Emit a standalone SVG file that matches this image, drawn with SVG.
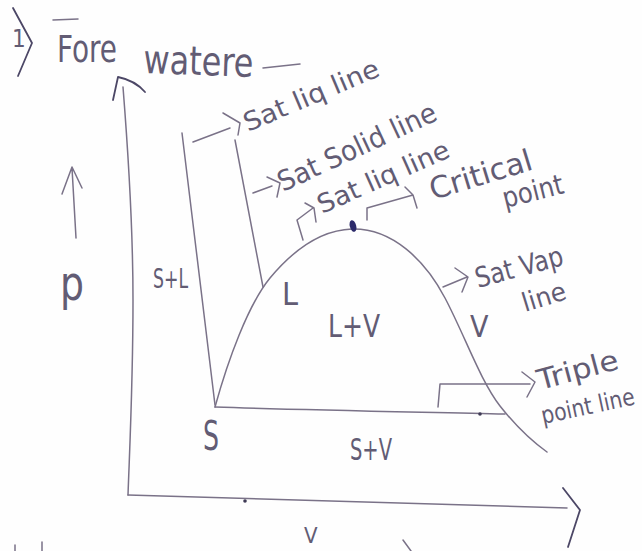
<svg xmlns="http://www.w3.org/2000/svg" width="642" height="551" viewBox="0 0 642 551">
<style>
.ln{fill:none;stroke:#7a7288;stroke-width:1.5;stroke-linecap:round;stroke-linejoin:round}
.dk{fill:none;stroke:#4c4766;stroke-width:1.8;stroke-linecap:round;stroke-linejoin:round}
.t{font-family:"DejaVu Sans Condensed","Liberation Sans Narrow","Liberation Sans",sans-serif;fill:#625c74}
</style>
<rect width="642" height="551" fill="#fefefe"/>

<g id="title">
<text class="t" x="12" y="47" font-size="24">1</text>
<path class="dk" d="M13,8 L32,43 L18,76"/>
<path class="ln" d="M53,20 L78,19"/>
<text class="t" x="57" y="62" font-size="38" textLength="60" lengthAdjust="spacingAndGlyphs">Fore</text>
<text class="t" transform="translate(143,73) rotate(2)" font-size="40" textLength="110" lengthAdjust="spacingAndGlyphs">watere</text>
<path class="ln" d="M263,68 L300,64"/>
</g>

<g id="connectors">
<!-- y axis -->
<path class="ln" d="M123,87 C128,150 133,220 133,300 C133,380 130,440 128,495"/>
<path class="dk" d="M113,100 L118,77 C128,79 138,84 145,92"/>
<!-- x axis -->
<path class="ln" d="M128,495 C250,500 400,503 567,508"/>
<path class="dk" d="M563,488 L580,510 L568,547"/>
<circle cx="245" cy="501" r="1.8" fill="#3e3a55"/>
<!-- saturation dome -->
<path class="ln" d="M215,407 C228,360 248,305 270,278 C295,248 322,230 352,229 C392,228 425,260 445,298 C465,336 480,380 500,406 C515,425 530,440 547,452"/>
<ellipse cx="353" cy="226" rx="3.2" ry="6" transform="rotate(-15 353 226)" fill="#2c2a6a"/>
<!-- sat solid line (left) -->
<path class="ln" d="M182,133 L215,405"/>
<!-- sat liq line (from L) -->
<path class="ln" d="M235,140 L263,287"/>
<!-- triple point line -->
<path class="ln" d="M215,407 C300,410 420,412 505,414"/>
<circle cx="480" cy="414" r="1.8" fill="#3e3a55"/>
<!-- pointer arrows -->
<path class="ln" d="M193,142 L230,128 M223,113 L240,123 L238,135"/>
<path class="ln" d="M253,193 L272,186 M267,177 L280,183 L277,197"/>
<path class="ln" d="M303,240 L297,220 L313,208 M305,203 L314,208 L316,222"/>
<path class="ln" d="M367,220 L367,208 L413,195 M405,187 L413,195 L417,208"/>
<path class="ln" d="M443,287 L467,277 M455,268 L468,277 L462,292"/>
<path class="ln" d="M438,407 L440,384 L530,384 M522,372 L535,382 L527,397"/>
<!-- left P arrow -->
<path class="ln" d="M72,168 L76,238 M62,194 L72,167 L82,188"/>
<!-- bottom fragments -->
<path class="ln" d="M403,540 L411,551"/>
<path class="ln" d="M15,545 L15,551 M42,542 L42,551"/>
</g>

<g id="labels-top">
<text class="t" transform="translate(248,132) rotate(-23)" font-size="26" textLength="145" lengthAdjust="spacingAndGlyphs">Sat liq line</text>
<text class="t" transform="translate(283,192) rotate(-25)" font-size="28" textLength="172" lengthAdjust="spacingAndGlyphs">Sat Solid line</text>
<text class="t" transform="translate(322,214) rotate(-24)" font-size="26" textLength="142" lengthAdjust="spacingAndGlyphs">Sat liq line</text>
<text class="t" transform="translate(433,200) rotate(-17)" font-size="30" textLength="106" lengthAdjust="spacingAndGlyphs">Critical</text>
<text class="t" transform="translate(505,208) rotate(-14)" font-size="28" textLength="62" lengthAdjust="spacingAndGlyphs">point</text>
</g>

<g id="labels-right">
<text class="t" transform="translate(478,288) rotate(-15)" font-size="28" textLength="90" lengthAdjust="spacingAndGlyphs">Sat Vap</text>
<text class="t" transform="translate(525,312) rotate(-17)" font-size="26" textLength="45" lengthAdjust="spacingAndGlyphs">line</text>
<text class="t" transform="translate(540,390) rotate(-15)" font-size="28" textLength="83" lengthAdjust="spacingAndGlyphs">Triple</text>
<text class="t" transform="translate(543,424) rotate(-12)" font-size="24" textLength="95" lengthAdjust="spacingAndGlyphs">point line</text>
</g>

<g id="regions">
<text class="t" x="153" y="288" font-size="26" textLength="35" lengthAdjust="spacingAndGlyphs">S+L</text>
<text class="t" x="282" y="305" font-size="32">L</text>
<text class="t" x="328" y="337" font-size="32" textLength="52" lengthAdjust="spacingAndGlyphs">L+V</text>
<text class="t" x="470" y="337" font-size="30">V</text>
<text class="t" x="203" y="450" font-size="40" textLength="16" lengthAdjust="spacingAndGlyphs">S</text>
<text class="t" x="350" y="460" font-size="30" textLength="42" lengthAdjust="spacingAndGlyphs">S+V</text>
</g>

<g id="axis-labels">
<text class="t" x="60" y="300" font-size="48" textLength="24" lengthAdjust="spacingAndGlyphs">p</text>
<text class="t" x="304" y="543" font-size="22">V</text>
</g>
</svg>
